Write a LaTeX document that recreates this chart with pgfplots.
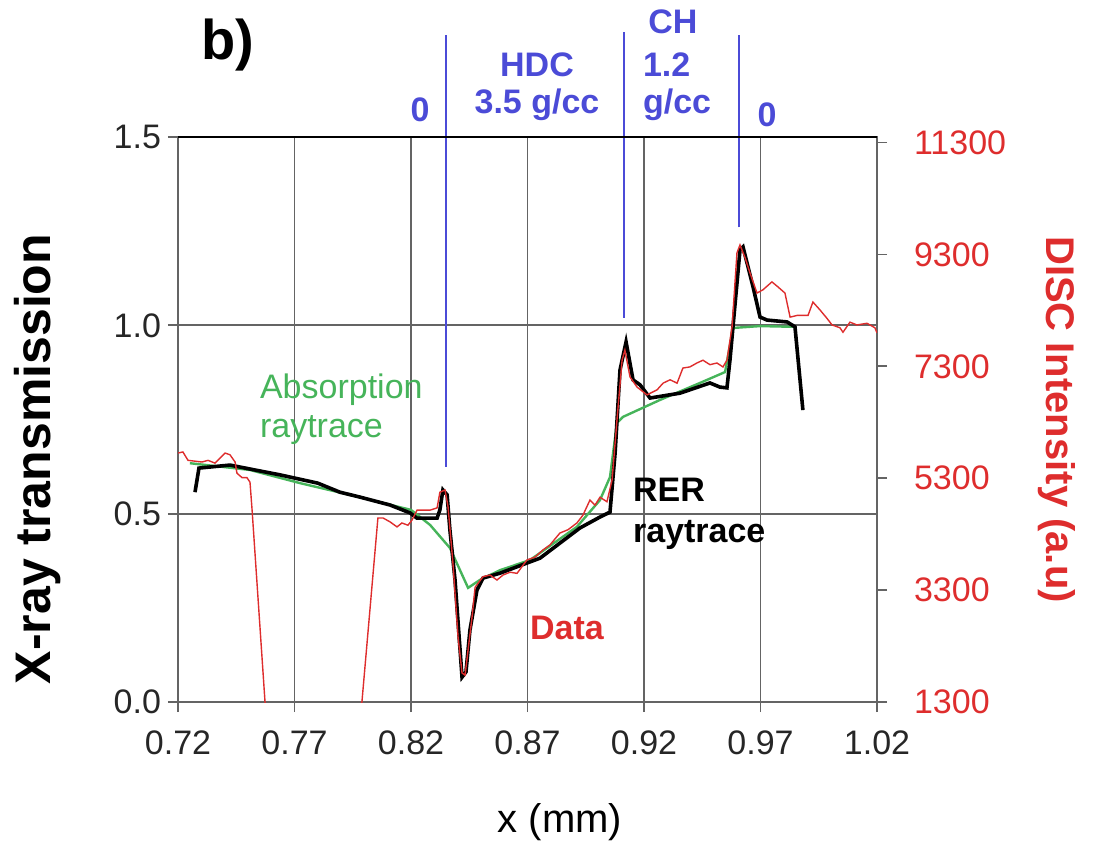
\documentclass[border=0pt]{standalone}
\usepackage{fontspec}
\setmainfont{Liberation Sans}
\usepackage{pgfplots}
\pgfplotsset{compat=1.18}
\definecolor{dred}{RGB}{222,45,45}
\definecolor{dgreen}{RGB}{70,180,90}
\definecolor{dblue}{RGB}{75,75,215}
\definecolor{gridgray}{RGB}{100,100,100}

\pgfplotstableread{
x y
0.7273 0.557
0.7290 0.621
0.7423 0.629
0.7530 0.616
0.7638 0.603
0.7800 0.581
0.7895 0.557
0.7981 0.544
0.8110 0.523
0.8196 0.502
0.8226 0.488
0.8312 0.488
0.8324 0.510
0.8337 0.563
0.8355 0.550
0.8367 0.457
0.8389 0.324
0.8419 0.066
0.8436 0.080
0.8453 0.191
0.8483 0.297
0.8509 0.329
0.8582 0.342
0.8754 0.382
0.8925 0.462
0.9011 0.491
0.9054 0.504
0.9076 0.661
0.9097 0.881
0.9123 0.956
0.9153 0.855
0.9183 0.842
0.9226 0.807
0.9355 0.820
0.9483 0.847
0.9526 0.836
0.9556 0.834
0.9569 0.908
0.9612 1.200
0.9625 1.208
0.9668 1.102
0.9698 1.022
0.9728 1.014
0.9814 1.009
0.9848 0.996
0.9882 0.775
}\rer

\pgfplotstableread{
x y
0.7251 0.634
0.7509 0.616
0.7724 0.581
0.7938 0.550
0.8200 0.510
0.8282 0.470
0.8367 0.409
0.8445 0.303
0.8496 0.324
0.8582 0.350
0.8711 0.377
0.8912 0.465
0.9011 0.536
0.9054 0.597
0.9084 0.741
0.9110 0.757
0.9269 0.802
0.9440 0.847
0.9548 0.876
0.9582 0.993
0.9698 0.998
0.9848 0.996
}\absorb

\pgfplotstableread{
x y
0.7200 5750
0.7221 5770
0.7243 5620
0.7303 5590
0.7329 5620
0.7359 5570
0.7402 5750
0.7423 5720
0.7445 5590
0.7453 5390
0.7475 5310
0.7496 5310
0.7509 5230
0.7518 4730
0.7573 1330
0.7595 260
0.7960 260
0.7990 1330
0.8058 4590
0.8080 4590
0.8110 4520
0.8140 4430
0.8161 4500
0.8187 4460
0.8204 4550
0.8226 4730
0.8282 4730
0.8312 4770
0.8324 5050
0.8346 5090
0.8359 4790
0.8380 3780
0.8402 2460
0.8419 1820
0.8432 1780
0.8462 2820
0.8475 3350
0.8509 3540
0.8539 3570
0.8569 3480
0.8595 3570
0.8625 3620
0.8655 3600
0.8698 3840
0.8732 3890
0.8767 4020
0.8797 4110
0.8839 4320
0.8874 4380
0.8912 4500
0.8938 4640
0.8968 4910
0.8990 4820
0.9011 4960
0.9041 4880
0.9063 5270
0.9084 6340
0.9106 7410
0.9118 7590
0.9140 7110
0.9170 6930
0.9213 6790
0.9256 6880
0.9282 7000
0.9312 7060
0.9342 7000
0.9367 7270
0.9397 7290
0.9427 7360
0.9453 7410
0.9483 7330
0.9513 7360
0.9539 7290
0.9556 7410
0.9578 8010
0.9599 9330
0.9612 9470
0.9633 9250
0.9655 8970
0.9685 8610
0.9711 8670
0.9749 8810
0.9775 8720
0.9805 8610
0.9827 8180
0.9857 8210
0.9904 8210
0.9925 8450
0.9955 8310
0.9985 8160
1.0007 8040
1.0041 7990
1.0054 7910
1.0084 8090
1.0114 8040
1.0157 8070
1.0191 7990
1.0200 7900
}\disc

\begin{document}
\begin{tikzpicture}
\begin{axis}[
  at={(0,0)}, anchor=south west,
  scale only axis, width=349.5pt, height=282.5pt,
  xmin=0.72, xmax=1.02, ymin=0, ymax=1.5,
  xtick={0.72,0.77,0.82,0.87,0.92,0.97,1.02},
  ytick={0,0.5,1,1.5},
  xtick pos=left, ytick pos=left,
  grid=major, major grid style={gridgray, line width=0.9pt},
  axis line style={gridgray, line width=1pt},
  tick align=outside, major tick length=5pt,
  tick style={gridgray, line width=0.9pt},
  x tick label style={yshift=-6pt, /pgf/number format/.cd, fixed, fixed zerofill, precision=2},
  y tick label style={/pgf/number format/.cd, fixed, fixed zerofill, precision=1},
  /pgf/number format/assume math mode=true,
  ticklabel style={font=\fontsize{17}{20}\selectfont, color=black!85},
  clip=false,
]
\addplot[dgreen, line width=1.2pt] table[x=x,y=y] {\absorb};
\addplot[black, line width=1.8pt] table[x=x,y=y] {\rer};
\addplot[dblue, line width=1.2pt] coordinates {(0.835,0.624) (0.835,1.77)};
\addplot[dblue, line width=1.2pt] coordinates {(0.9114,1.02) (0.9114,1.78)};
\addplot[dblue, line width=1.2pt] coordinates {(0.9608,1.26) (0.9608,1.77)};
\end{axis}
\begin{axis}[
  at={(0,0)}, anchor=south west,
  scale only axis, width=349.5pt, height=282.5pt,
  xmin=0.72, xmax=1.02, ymin=1300, ymax=11400,
  hide x axis,
  ytick={1300,3300,5300,7300,9300,11300},
  scaled y ticks=false,
  ytick pos=right, yticklabel pos=right,
  axis line style={gridgray, line width=1pt},
  tick align=outside, major tick length=5pt,
  tick style={gridgray, line width=0.9pt},
  y tick label style={xshift=10pt, /pgf/number format/.cd, fixed, 1000 sep={}},
  /pgf/number format/assume math mode=true,
  ticklabel style={font=\fontsize{17}{20}\selectfont, color=dred},
]
\addplot[dred, line width=0.7pt] table[x=x,y=y] {\disc};
\end{axis}
\draw[black, line width=1.4pt] (0,282.5pt) -- (349.5pt,282.5pt);
% axis labels
\node[rotate=90, font=\bfseries\fontsize{25}{28}\selectfont] at (-70pt,121.5pt) {X-ray transmission};
\node[rotate=-90, font=\bfseries\fontsize{20}{23}\selectfont, text=dred] at (439.5pt,141.25pt) {DISC Intensity (a.u)};
\node[font=\fontsize{20}{23}\selectfont] at (191pt,-60pt) {x (mm)};
% annotations
\node[font=\bfseries\fontsize{28}{32}\selectfont] at (25pt,328.5pt) {b)};
\node[font=\bfseries\fontsize{17}{20}\selectfont, text=dblue] at (121pt,296pt) {0};
\node[font=\bfseries\fontsize{17}{20}\selectfont, text=dblue] at (179.5pt,318.5pt) {HDC};
\node[font=\bfseries\fontsize{17}{20}\selectfont, text=dblue] at (179.5pt,298.5pt) {3.5 g/cc};
\node[font=\bfseries\fontsize{17}{20}\selectfont, text=dblue] at (247.5pt,340pt) {CH};
\node[font=\bfseries\fontsize{17}{20}\selectfont, text=dblue, anchor=west] at (229pt,318.5pt) {1.2};
\node[font=\bfseries\fontsize{17}{20}\selectfont, text=dblue, anchor=west] at (229pt,298.5pt) {g/cc};
\node[font=\bfseries\fontsize{17}{20}\selectfont, text=dblue] at (294.5pt,293.5pt) {0};
\node[font=\fontsize{17}{20}\selectfont, text=dgreen, anchor=west] at (37.5pt,156pt) {Absorption};
\node[font=\fontsize{17}{20}\selectfont, text=dgreen, anchor=west] at (37.5pt,136pt) {raytrace};
\node[font=\bfseries\fontsize{17}{20}\selectfont, anchor=west] at (224pt,106pt) {RER};
\node[font=\bfseries\fontsize{17}{20}\selectfont, anchor=west] at (224pt,83.5pt) {raytrace};
\node[font=\bfseries\fontsize{17}{20}\selectfont, text=dred] at (194.5pt,37pt) {Data};
\pgfresetboundingbox
\path[use as bounding box] (-89pt,-70pt) rectangle (460.5pt,351pt);
\end{tikzpicture}
\end{document}
